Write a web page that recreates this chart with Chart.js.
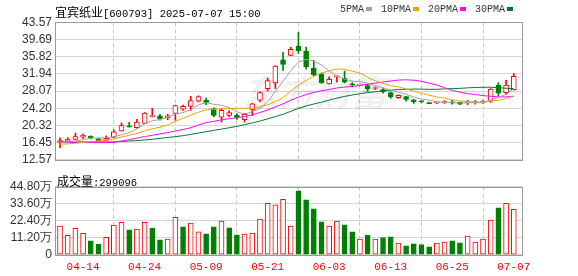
<!DOCTYPE html>
<html>
<head>
<meta charset="utf-8">
<script src="https://cdn.jsdelivr.net/npm/chart.js@4/dist/chart.umd.min.js"></script>
<style>
  body { margin: 0; width: 578px; height: 276px; background: #fff; position: relative; overflow: hidden; }
  canvas { position: absolute; left: 0; }
  #priceCv { top: 0; }
  #volCv { top: 170px; }
  .txt { position: absolute; white-space: nowrap; color: #000; line-height: 12px; }
  .cjk { font: 12px "Noto Sans CJK SC", sans-serif; }
  .mono { font: 10.5px "Liberation Mono", monospace; }
  #legend { left: 340px; top: 4px; color: #333; font: 10px "Liberation Mono", monospace; }
  #legend i { display: inline-block; width: 6px; height: 4px; margin: 0 9px 1px 2px; }
</style>
</head>
<body>
<canvas id="priceCv" width="578" height="170"></canvas>
<canvas id="volCv" width="578" height="106"></canvas>
<div class="txt" style="left:55px;top:3px"><span class="cjk">宜宾纸业</span><span class="mono">[600793] 2025-07-07 15:00</span></div>
<div class="txt" id="legend"></div>
<div class="txt" id="volTitle" style="left:57px;top:172px"></div>
<script>
// trading days shown
const dates = ['04-09','04-10','04-11','04-14','04-15','04-16','04-17','04-18','04-21','04-22',
  '04-23','04-24','04-25','04-28','04-29','04-30','05-06','05-07','05-08','05-09',
  '05-12','05-13','05-14','05-15','05-16','05-19','05-20','05-21','05-22','05-23',
  '05-26','05-27','05-28','05-29','05-30','06-03','06-04','06-05','06-06','06-09',
  '06-10','06-11','06-12','06-13','06-16','06-17','06-18','06-19','06-20','06-23',
  '06-24','06-25','06-26','06-27','06-30','07-01','07-02','07-03','07-04','07-07'];
const dateTicks = ['04-14','04-24','05-09','05-21','06-03','06-13','06-25','07-07'];

const opens  = [16.5,16.8,17.15,17.7,17.9,17.3,17.0,17.7,19.1,20.2,
  19.8,20.8,22.3,22.5,22.0,23.0,24.0,24.6,25.8,26.0,
  24.1,22.2,22.6,22.6,21.6,23.8,26.0,28.6,29.9,35.1,
  36.1,38.2,37.1,33.2,31.9,29.7,31.3,31.0,29.6,29.4,
  29.3,28.65,28.4,27.7,26.6,26.8,26.1,25.75,25.35,25.4,
  25.45,25.65,25.5,25.4,25.45,25.5,25.8,29.4,27.7,28.4];
const highs  = [17.5,17.6,18.6,18.4,18.0,17.4,18.0,19.3,20.9,21.0,
  21.7,23.2,24.2,22.8,22.8,24.9,24.9,26.9,27.0,26.5,
  24.3,24.1,23.6,23.0,23.0,25.3,27.9,31.0,33.8,36.8,
  37.9,41.3,38.0,35.0,32.2,31.3,31.5,32.6,30.0,29.7,
  29.6,29.0,28.6,27.9,27.2,26.9,26.2,25.9,25.5,25.7,
  25.9,26.0,25.6,26.0,25.9,26.0,28.6,30.0,30.5,32.0];
const lows   = [15.3,16.7,17.1,17.4,17.3,16.8,16.9,17.5,19.0,19.9,
  19.7,20.7,22.2,21.5,21.6,21.5,23.7,23.7,25.6,25.0,
  22.3,21.1,22.3,21.7,21.1,22.6,25.6,28.1,28.6,32.7,
  36.0,36.6,33.0,31.5,29.8,29.6,30.1,29.9,29.0,29.2,
  28.0,28.4,27.6,26.4,26.4,25.8,25.3,25.4,25.2,25.2,
  25.3,25.1,25.0,25.0,25.1,25.3,25.5,27.0,27.3,28.3];
const closes = [16.9,17.2,17.8,18.1,17.5,16.85,17.4,18.9,20.3,20.0,
  21.1,23.1,22.3,21.8,22.5,24.8,24.6,25.9,26.8,25.4,
  22.6,23.7,23.2,22.1,22.8,25.2,27.7,30.45,33.7,34.1,
  37.5,37.2,33.5,31.7,29.9,30.7,31.4,30.1,29.45,29.5,
  28.6,28.75,27.85,26.75,27.1,26.2,25.7,25.65,25.25,25.5,
  25.7,25.35,25.1,25.5,25.5,25.8,28.5,27.6,29.4,31.4];
const closeBefore = 16.4;

// volume, unit 万 shares
const volumes = [18.8,12.7,17.3,14.0,9.2,7.0,11.4,19.5,21.4,16.4,
  16.8,21.4,17.5,9.8,10.3,24.7,18.4,20.8,15.1,13.8,
  18.4,22.1,17.7,13.1,13.6,14.2,23.4,33.9,32.8,36.5,
  18.8,42.0,36.1,30.2,21.6,18.8,22.1,19.7,15.1,10.3,
  12.9,10.3,11.2,11.8,7.7,5.9,7.2,6.6,5.2,7.7,
  8.3,9.2,7.9,12.3,8.3,10.3,22.8,30.8,33.9,29.9096];

const ma5  = [16.4,16.6,16.8,17.1,17.5,17.49,17.53,17.75,18.19,18.69,
  19.54,20.68,21.36,21.66,22.16,22.9,23.2,23.92,24.92,25.5,
  25.06,24.88,24.34,23.4,22.88,23.4,24.2,25.65,27.97,30.23,
  32.69,34.59,35.2,34.8,33.96,32.6,31.44,30.76,30.31,30.23,
  29.81,29.28,28.83,28.29,27.81,27.33,26.72,26.28,25.98,25.66,
  25.56,25.49,25.38,25.43,25.43,25.45,26.08,26.58,27.36,28.54];
const ma10 = [16.1,16.15,16.3,16.5,16.7,16.85,17.0,17.3,17.7,18.1,
  18.52,19.1,19.56,19.93,20.43,21.22,21.94,22.64,23.29,23.83,
  23.98,24.04,24.12,24.15,24.18,24.22,24.53,24.98,25.68,26.56,
  28.05,29.4,30.43,31.39,32.1,32.65,33.02,32.98,32.56,32.1,
  31.21,30.36,29.8,29.3,29.02,28.57,28.0,27.56,27.14,26.74,
  26.45,26.1,25.83,25.71,25.55,25.51,25.79,25.98,26.4,26.99];
const ma20 = [16.45,16.45,16.45,16.45,16.45,16.45,16.45,16.5,16.8,17.1,
  17.45,17.8,18.1,18.4,18.7,19.05,19.4,19.8,20.4,20.96,
  21.24,21.57,21.84,22.03,22.31,22.72,23.24,23.8,24.48,25.19,
  26.0,26.7,27.26,27.76,28.13,28.42,28.76,28.97,29.11,29.32,
  29.62,29.87,30.1,30.34,30.55,30.61,30.51,30.27,29.85,29.42,
  28.83,28.23,27.81,27.5,27.28,27.04,26.89,26.77,26.77,26.86];
const ma30 = [16.6,16.6,16.6,16.6,16.6,16.6,16.6,16.6,16.7,16.8,
  16.9,17.05,17.2,17.4,17.6,17.8,18.0,18.3,18.6,18.9,
  19.2,19.5,19.8,20.1,20.5,20.9,21.3,21.8,22.3,22.82,
  23.5,24.17,24.69,25.15,25.56,26.02,26.49,26.86,27.17,27.48,
  27.73,27.92,28.11,28.27,28.43,28.47,28.51,28.5,28.45,28.46,
  28.56,28.61,28.68,28.79,28.88,28.91,28.93,28.84,28.7,28.6];

const maNames = ['5PMA','10PMA','20PMA','30PMA'];
const maColors = ['#a0a0a0','#f5a200','#ff00ff','#007a33'];
const maSeries = [ma5, ma10, ma20, ma30];

const priceTicks = [12.57,16.45,20.32,24.20,28.07,31.94,35.82,39.69,43.57];
const volTicks = [0,11.2,22.4,33.6,44.8];

const RED = '#ff0000', GREEN = '#008000';

// legend and volume caption
document.getElementById('legend').innerHTML = maNames.map((n, i) =>
  n + '<i style="background:' + maColors[i] + '"></i>').join('');
document.getElementById('volTitle').innerHTML = '<span class="cjk">成交量</span><span class="mono">:' +
  Math.round(volumes[volumes.length - 1] * 10000) + '</span>';

const xs = dates.map((d, i) => i + 1);
const tickIdx = dateTicks.map(d => dates.indexOf(d) + 1);
const candleUp = closes.map((c, i) => c >= opens[i]);
const volUp = closes.map((c, i) => c >= (i ? closes[i - 1] : closeBefore));
const X_MIN = 0.35, X_MAX = 61.07;

const framePlugin = {
  id: 'frame',
  beforeDatasetsDraw(chart) {
    const { ctx, chartArea: a } = chart;
    ctx.save();
    ctx.strokeStyle = '#999';
    ctx.lineWidth = 1;
    ctx.strokeRect(Math.round(a.left) + 0.5, Math.round(a.top) + 0.5,
      Math.round(a.right - a.left), Math.round(a.bottom - a.top));
    ctx.restore();
  }
};

const watermark = {
  id: 'watermark',
  beforeDatasetsDraw(chart) {
    const ctx = chart.ctx;
    ctx.save();
    ctx.fillStyle = 'rgba(0,0,0,0.06)';
    ctx.font = 'italic bold 36px "Noto Sans CJK SC"';
    ctx.textBaseline = 'middle';
    ctx.fillText('东方财富', 243, 92);
    ctx.restore();
  }
};

function xScale(showLabels, h) {
  return {
    type: 'linear', min: X_MIN, max: X_MAX, offset: false,
    afterBuildTicks: ax => { ax.ticks = tickIdx.map(v => ({ value: v })); },
    afterFit: ax => { ax.height = h; },
    grid: { color: '#c8c8c8', drawTicks: false },
    border: { display: false, dash: [4, 3] },
    ticks: {
      display: showLabels, autoSkip: false, maxRotation: 0, padding: 6,
      color: RED, font: { family: 'Liberation Mono', size: 11 },
      callback: v => dates[v - 1]
    }
  };
}

function yScale(min, max, ticks, fmt) {
  return {
    min, max,
    afterBuildTicks: ax => { ax.ticks = ticks.map(v => ({ value: v })); },
    afterFit: ax => { ax.width = 55; },
    grid: { color: '#d6d6d6', drawTicks: false },
    border: { display: false },
    ticks: { autoSkip: false, padding: 3, color: '#333', font: { family: 'Liberation Sans', size: 12 }, callback: fmt }
  };
}

// price chart
new Chart(document.getElementById('priceCv').getContext('2d'), {
  type: 'bar',
  data: {
    datasets: [
      ...maSeries.map((s, k) => ({
        type: 'line', label: maNames[k], data: xs.map((x, i) => ({ x, y: s[i] })),
        borderColor: maColors[k], borderWidth: 1, pointRadius: 0, tension: 0, order: 0
      })),
      {
        label: 'body', data: xs.map((x, i) => ({ x, y: [opens[i], closes[i]] })),
        backgroundColor: candleUp.map(u => u ? '#fff' : GREEN),
        borderColor: candleUp.map(u => u ? RED : GREEN),
        borderWidth: 1, borderSkipped: false, barThickness: 5, minBarLength: 1, grouped: false, order: 1
      },
      {
        label: 'wick', data: xs.map((x, i) => ({ x, y: [lows[i], highs[i]] })),
        backgroundColor: candleUp.map(u => u ? RED : GREEN),
        borderWidth: 0, barThickness: 1, grouped: false, order: 2
      }
    ]
  },
  options: {
    responsive: false, animation: false, devicePixelRatio: 1, events: [],
    layout: { padding: { top: 22.3, right: 56, left: 0, bottom: 0 } },
    plugins: { legend: { display: false }, tooltip: { enabled: false } },
    scales: {
      x: xScale(false, 170 - 164.3),
      y: yScale(12.57, 43.57, priceTicks, v => v.toFixed(2))
    }
  },
  plugins: [watermark, framePlugin]
});

// volume chart
new Chart(document.getElementById('volCv').getContext('2d'), {
  type: 'bar',
  data: {
    datasets: [{
      label: 'vol', data: xs.map((x, i) => ({ x, y: volumes[i] })),
      backgroundColor: volUp.map(u => u ? '#fff' : GREEN),
      borderColor: volUp.map(u => u ? RED : GREEN),
      borderWidth: 1, borderSkipped: false, barThickness: 5
    }]
  },
  options: {
    responsive: false, animation: false, devicePixelRatio: 1, events: [],
    layout: { padding: { top: 16.7, right: 56, left: 0, bottom: 0 } },
    plugins: { legend: { display: false }, tooltip: { enabled: false } },
    scales: {
      x: xScale(true, 106 - 84.7),
      y: yScale(0, 44.8, volTicks, v => v === 0 ? '0' : v.toFixed(2) + '万')
    }
  },
  plugins: [framePlugin]
});
</script>
</body>
</html>
